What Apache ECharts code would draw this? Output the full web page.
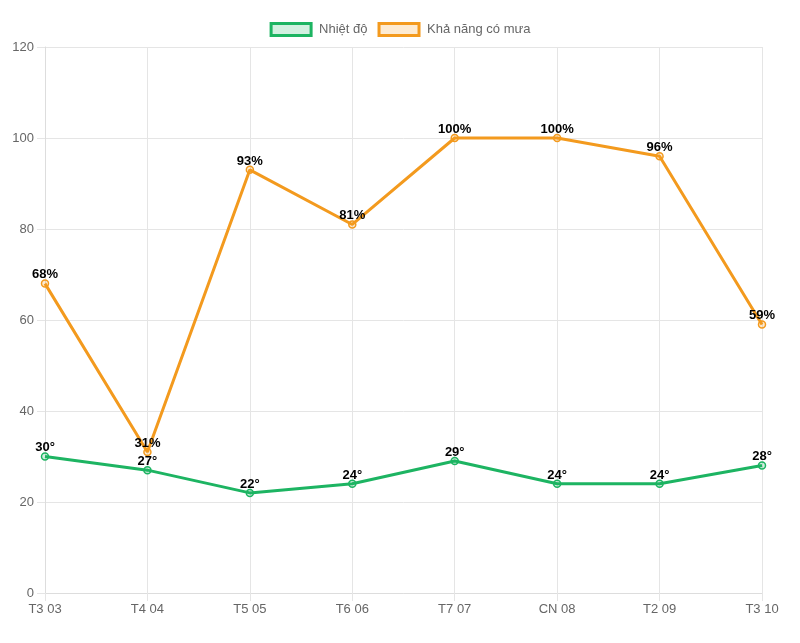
<!DOCTYPE html>
<html><head><meta charset="utf-8">
<script src="https://cdn.jsdelivr.net/npm/echarts@6/dist/echarts.min.js"></script>
<style>html,body{margin:0;padding:0;background:#fff}#c{width:800px;height:643px}</style>
</head><body><div id="c"></div>
<script>
const categories = ["T3 03","T4 04","T5 05","T6 06","T7 07","CN 08","T2 09","T3 10"];
const temperature = [30,27,22,24,29,24,24,28];
const rainChance = [68,31,93,81,100,100,96,59];
const yTicks = {min:0,max:120,interval:20};

const green = '#1db462', orange = '#f39a1e';
const chart = echarts.init(document.getElementById('c'));
const font = 'Arial, "Liberation Sans", sans-serif';
chart.setOption({
  animation:false,
  textStyle:{fontFamily:font},
  legend:{
    top:17, left:'center', itemWidth:40, itemHeight:12, itemGap:10, icon:'rect',
    textStyle:{color:'#666', fontSize:13, fontFamily:font, padding:[0,0,0,3]},
    data:[
      {name:'Nhiệt độ', itemStyle:{color:'rgba(29,180,98,0.2)', borderColor:green, borderWidth:3}},
      {name:'Khả năng có mưa', itemStyle:{color:'rgba(243,154,30,0.2)', borderColor:orange, borderWidth:3}}
    ]
  },
  grid:{left:45, right:38, top:47, bottom:50, containLabel:false},
  xAxis:{
    type:'category', data:categories, boundaryGap:false,
    axisLine:{lineStyle:{color:'#ddd'}},
    axisTick:{show:true, length:8, lineStyle:{color:'#e5e5e5'}},
    axisLabel:{color:'#666', fontSize:13, margin:10, fontFamily:font},
    splitLine:{show:true, lineStyle:{color:'#e5e5e5'}}
  },
  yAxis:{
    type:'value', min:yTicks.min, max:yTicks.max, interval:yTicks.interval,
    axisLine:{show:true, lineStyle:{color:'#ddd'}},
    axisTick:{show:true, length:8, lineStyle:{color:'#e5e5e5'}},
    axisLabel:{color:'#666', fontSize:13, margin:11, fontFamily:font},
    splitLine:{show:true, lineStyle:{color:'#e5e5e5'}}
  },
  series:[
    {name:'Nhiệt độ', type:'line', data:temperature, symbol:'circle', symbolSize:7,
     lineStyle:{color:green, width:3},
     itemStyle:{color:'rgba(29,180,98,0.2)', borderColor:green, borderWidth:1.5},
     label:{show:true, position:'top', distance:-2, formatter:p=>p.value+'°', color:'#000', fontWeight:'bold', fontSize:13, fontFamily:font}},
    {name:'Khả năng có mưa', type:'line', data:rainChance, symbol:'circle', symbolSize:7,
     lineStyle:{color:orange, width:3},
     itemStyle:{color:'rgba(243,154,30,0.2)', borderColor:orange, borderWidth:1.5},
     label:{show:true, position:'top', distance:-2, formatter:p=>p.value+'%', color:'#000', fontWeight:'bold', fontSize:13, fontFamily:font}}
  ]
});
</script></body></html>
